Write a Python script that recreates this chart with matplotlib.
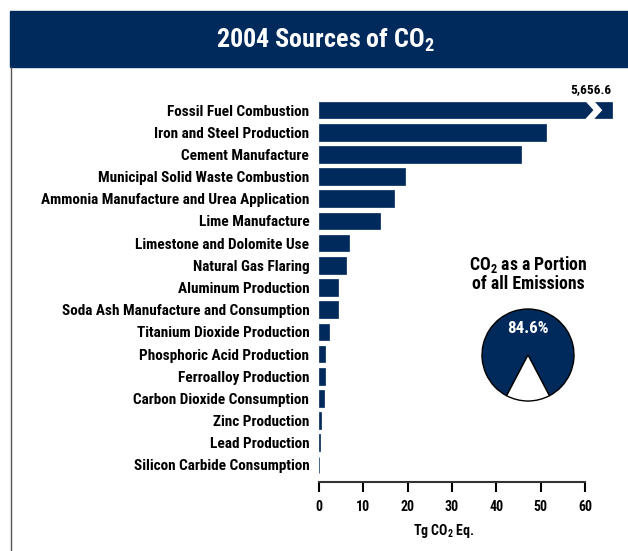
import matplotlib
matplotlib.use("Agg")
import matplotlib.pyplot as plt
import matplotlib.font_manager as fm
from matplotlib.patches import Polygon, Rectangle
from matplotlib.lines import Line2D

# pick a narrow bold face if one is installed
names = {f.name for f in fm.fontManager.ttflist}
dv_cond = any(f.name == 'DejaVu Sans' and 'condensed' in str(f.stretch) for f in fm.fontManager.ttflist)
if 'Liberation Sans Narrow' in names:
    fam, stretch, scale = 'Liberation Sans Narrow', 'normal', 1.05
elif 'Roboto Condensed' in names:
    fam, stretch, scale = 'Roboto Condensed', 'normal', 1.0
elif dv_cond:
    fam, stretch, scale = 'DejaVu Sans', 'condensed', 0.96
else:
    fam, stretch, scale = 'DejaVu Sans', 'normal', 0.86
plt.rcParams['font.family'] = [fam, 'DejaVu Sans']
plt.rcParams['font.stretch'] = stretch
plt.rcParams['font.weight'] = 'bold'
plt.rcParams['mathtext.default'] = 'regular'

NAVY = '#002a5c'

sources = ["Fossil Fuel Combustion", "Iron and Steel Production", "Cement Manufacture",
           "Municipal Solid Waste Combustion", "Ammonia Manufacture and Urea Application",
           "Lime Manufacture", "Limestone and Dolomite Use", "Natural Gas Flaring",
           "Aluminum Production", "Soda Ash Manufacture and Consumption",
           "Titanium Dioxide Production", "Phosphoric Acid Production",
           "Ferroalloy Production", "Carbon Dioxide Consumption", "Zinc Production",
           "Lead Production", "Silicon Carbide Consumption"]
values = [5656.6, 51.3, 45.6, 19.4, 16.9, 13.7, 6.7, 6.0, 4.2, 4.2, 2.3, 1.4, 1.3, 1.2,
          0.5, 0.3, 0.1]
pie_share = [84.6, 15.4]

fig = plt.figure(figsize=(6.28, 5.51), dpi=100)

# header band + left border
fig.patches.append(Rectangle((10/628, 1-67/551), 1, 56/551, transform=fig.transFigure,
                             color=NAVY, zorder=0))
fig.lines.append(Line2D([11/628, 11/628], [0, 1-67/551], transform=fig.transFigure,
                        color='#555555', lw=1))
fig.text(0.518, 1-40/551, "2004 Sources of CO$_2$", color='white', fontsize=18.8*scale,
         fontweight='bold', ha='center', va='center')

# bar chart
ax = fig.add_axes([319/628, 1-482/551, 266/628, 383/551])
cap = 66  # broken bar drawn past the axis end
shown = [min(v, cap) for v in values]
ypos = list(range(len(sources)))
bars = ax.barh(ypos, shown, height=0.75, color=NAVY, edgecolor=NAVY, linewidth=0.5)
bars[0].set_clip_on(False)
ax.set_xlim(0, 60)
ax.set_ylim(16.77, -0.5)
ax.set_yticks(ypos)
ax.set_yticklabels(sources, fontsize=11*scale, fontweight='bold')
ax.tick_params(axis='y', length=0, pad=7)
ax.set_xticks(range(0, 61, 10))
ax.tick_params(axis='x', length=7, width=1.5, direction='out', labelsize=10*scale, pad=6)
for lab in ax.get_xticklabels():
    lab.set_fontweight('bold')
for s in ['top', 'right', 'left']:
    ax.spines[s].set_visible(False)
ax.spines['bottom'].set_linewidth(1.5)
ax.spines['bottom'].set_color('#333333')
ax.set_xlabel("Tg CO$_2$ Eq.", fontsize=10*scale, fontweight='bold')
ax.xaxis.set_label_coords(0.47, -0.105)

# break mark on first bar
zig = Polygon([(60.0, -0.42), (62.0, -0.42), (63.9, 0), (62.0, 0.42), (60.0, 0.42), (61.9, 0)],
              closed=True, facecolor='white', edgecolor='none', clip_on=False, zorder=3)
ax.add_patch(zig)
ax.text(cap, -0.62, f"{values[0]:,.1f}", ha='right', va='bottom', fontsize=9.6*scale,
        fontweight='bold', clip_on=False)

# pie inset
pax = fig.add_axes([(528-57.5)/628, 1-(355+57.5)/551, 115/628, 115/551])
pax.pie(pie_share, colors=[NAVY, 'white'], startangle=270 + pie_share[1]*3.6/2,
        wedgeprops=dict(edgecolor='black', linewidth=1))
pax.set_aspect('equal')
pax.text(0, 0.57, f"{pie_share[0]}%", color='white', ha='center', va='center',
         fontsize=12.2*scale, fontweight='bold')
fig.text(528/628, 1-274/551, "CO$_2$ as a Portion\nof all Emissions", ha='center',
         va='center', fontsize=12.8*scale, fontweight='bold', linespacing=1.0)

fig.savefig("out.png", dpi=100)
